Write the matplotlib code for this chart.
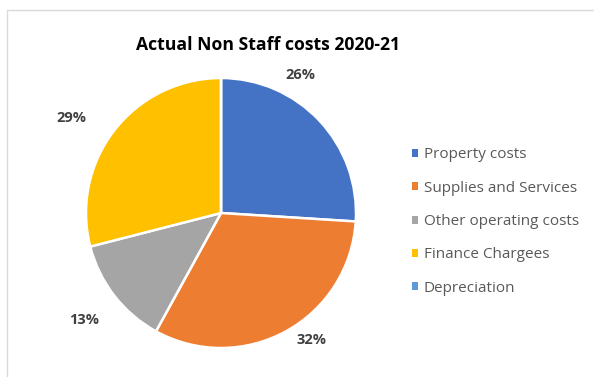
import matplotlib.pyplot as plt
import matplotlib.patches as mpatches
import numpy as np

plt.rcParams['font.family'] = ['Open Sans', 'DejaVu Sans']

categories = ["Property costs", "Supplies and Services", "Other operating costs",
              "Finance Chargees", "Depreciation"]
shares = [26, 32, 13, 29, 0]
colors = ["#4472C4", "#ED7D31", "#A5A5A5", "#FFC000", "#5B9BD5"]

W, H = 594, 377
fig = plt.figure(figsize=(W / 100, H / 100), dpi=100)

# chart area frame
fig.patches.append(mpatches.Rectangle((7 / W, -0.05), 1.2, (H - 10) / H + 0.05,
                                      transform=fig.transFigure, fill=False,
                                      edgecolor="#D9D9D9", linewidth=1.0))

fig.text(268 / W, 1 - 45 / H, "Actual Non Staff costs 2020-21",
         ha="center", va="center", fontsize=12.7, fontweight="bold", color="black")

cx, cy, r = 221, 213, 135
ax = fig.add_axes([(cx - r) / W, (H - cy - r) / H, 2 * r / W, 2 * r / H])
wedges, _ = ax.pie(shares, colors=colors, startangle=90, counterclock=False,
                   radius=1.0, wedgeprops=dict(edgecolor="white", linewidth=1.8))
ax.set_xlim(-1, 1)
ax.set_ylim(-1, 1)
ax.set_aspect("equal")
ax.axis("off")

# outside-end labels, shifted a bit from the wedge bisector
nudge = [(-0.334, 0.160), (0.067, 0.163), (-0.019, -0.021), (-0.115, -0.068), (0, 0)]
for w, v, (dx, dy) in zip(wedges, shares, nudge):
    if v == 0:
        continue
    ang = np.deg2rad((w.theta1 + w.theta2) / 2)
    d = 1.26
    ax.text(d * np.cos(ang) + dx, d * np.sin(ang) + dy, f"{v}%",
            ha="center", va="center", fontsize=10.5, fontweight="bold",
            color="#404040", clip_on=False)

# legend
handles = [mpatches.Patch(facecolor=c, edgecolor="none") for c in colors]
fig.legend(handles, categories, loc="center left",
           bbox_to_anchor=(398 / W, 1 - 221.5 / H), frameon=False,
           fontsize=11, labelcolor="#595959", handlelength=0.42,
           handleheight=0.42, handletextpad=0.35, labelspacing=1.2)

fig.savefig("out.png", dpi=100)
